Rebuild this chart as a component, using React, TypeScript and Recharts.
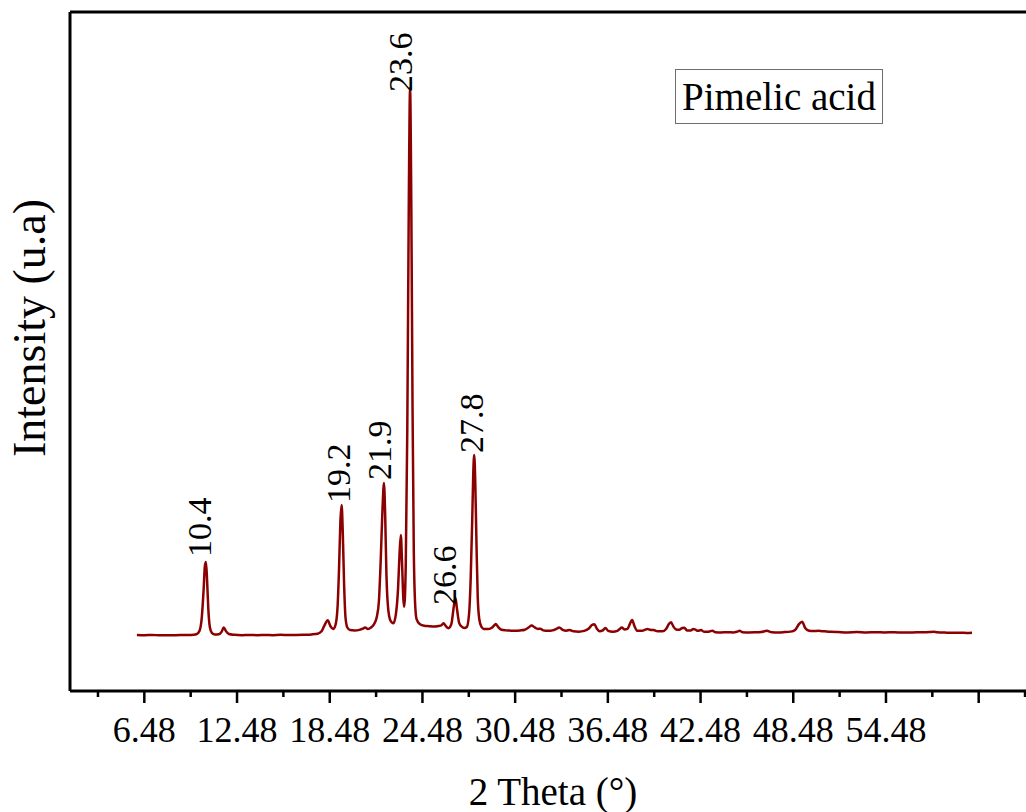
import React from 'react';
import { ComposedChart, Line, XAxis, YAxis, ReferenceDot, ReferenceLine } from 'recharts';

// XRD pattern (2 theta in degrees, intensity in arbitrary units)
const twoTheta = [
  6.0, 6.5, 7.0, 7.5, 8.0, 8.5, 9.0, 9.5, 9.85, 10.05, 10.2, 10.32, 10.4, 10.47, 10.54, 10.62, 10.72, 10.85,
  11.05, 11.3, 11.48, 11.62, 11.75, 11.95, 12.3, 12.8, 13.3, 13.8, 14.3, 14.8, 15.3, 15.8, 16.3, 16.8, 17.3,
  17.7, 17.95, 18.15, 18.35, 18.52, 18.7, 18.85, 18.98, 19.08, 19.17, 19.25, 19.33, 19.41, 19.5, 19.62, 19.8,
  20.1, 20.4, 20.62, 20.77, 20.95, 21.15, 21.35, 21.52, 21.66, 21.78, 21.9, 21.99, 22.07, 22.15, 22.25, 22.4,
  22.6, 22.76, 22.9, 23.0, 23.08, 23.16, 23.24, 23.3, 23.4, 23.5, 23.6, 23.68, 23.76, 23.84, 23.92, 24.0, 24.1,
  24.3, 24.6, 24.9, 25.2, 25.5, 25.7, 25.84, 26.0, 26.16, 26.35, 26.5, 26.62, 26.72, 26.86, 27.02, 27.2, 27.35,
  27.5, 27.6, 27.7, 27.77, 27.83, 27.9, 27.98, 28.06, 28.16, 28.3, 28.45, 28.7, 28.95, 29.1, 29.22, 29.38, 29.6,
  29.9, 30.2, 30.5, 30.8, 31.1, 31.35, 31.55, 31.75, 31.95, 32.1, 32.3, 32.6, 32.9, 33.15, 33.34, 33.55, 33.8,
  34.0, 34.25, 34.6, 34.95, 35.25, 35.45, 35.6, 35.78, 35.95, 36.15, 36.32, 36.5, 36.8, 37.1, 37.25, 37.38,
  37.55, 37.75, 37.9, 38.05, 38.2, 38.4, 38.7, 38.9, 39.04, 39.2, 39.45, 39.7, 40.0, 40.25, 40.45, 40.57, 40.72,
  40.9, 41.1, 41.3, 41.43, 41.6, 41.85, 42.0, 42.15, 42.3, 42.51, 42.7, 43.0, 43.24, 43.45, 43.8, 44.2, 44.6,
  44.85, 45.0, 45.2, 45.6, 46.0, 46.4, 46.77, 47.1, 47.5, 47.9, 48.3, 48.6, 48.85, 49.05, 49.25, 49.5, 49.8,
  50.1, 50.5, 50.9, 51.4, 52.0, 52.6, 53.2, 53.8, 54.4, 55.0, 55.6, 56.2, 56.8, 57.3, 57.55, 57.8, 58.3, 58.8,
  59.3, 59.7, 60.05,
];
const intensity = [
  577, 575, 578, 574, 576, 575, 577, 578, 585, 620, 760, 1050, 1290, 1330, 1150, 850, 660, 600,
  583, 585, 610, 655, 620, 588, 580, 576, 578, 575, 578, 576, 579, 577, 578, 580, 583,
  590, 615, 680, 730, 670, 640, 680, 850, 1250, 1750, 1918, 1600, 1100, 760, 655, 628,
  624, 630, 642, 655, 640, 655, 690, 760, 920, 1350, 1900, 2144, 1800, 1200, 870, 730,
  698, 790, 1050, 1420, 1608, 1320, 960, 869, 1300, 2700, 5100, 6217, 5000, 2900, 1450, 920, 740,
  690, 672, 668, 664, 670, 676, 698, 668, 648, 690, 860, 959, 840, 700, 664, 650, 660,
  800, 1150, 1750, 2250, 2433, 2150, 1500, 960, 740, 660, 640, 638, 650, 672, 690, 660, 632,
  625, 622, 620, 624, 632, 655, 675, 655, 640, 642, 625, 620, 625, 640, 655, 630, 622,
  630, 615, 612, 620, 645, 680, 688, 640, 615, 625, 650, 620, 612, 620, 640, 655,
  635, 640, 690, 732, 670, 620, 620, 632, 640, 632, 628, 615, 615, 640, 695, 708, 665,
  635, 632, 650, 653, 625, 625, 638, 632, 620, 628, 612, 612, 622, 606, 604, 606, 604,
  612, 620, 606, 604, 605, 608, 620, 606, 604, 607, 612, 630, 690, 714, 650, 622, 618,
  620, 615, 610, 607, 604, 607, 603, 606, 603, 606, 602, 604, 605, 608, 611, 605, 602, 600,
  601, 598, 600,
];

const majorTicks = [6.48, 12.48, 18.48, 24.48, 30.48, 36.48, 42.48, 48.48, 54.48, 60.48];
const tickLabels = ['6.48', '12.48', '18.48', '24.48', '30.48', '36.48', '42.48', '48.48', '54.48', ''];
const minorTicks = [3.48, 9.48, 15.48, 21.48, 27.48, 33.48, 39.48, 45.48, 51.48, 57.48, 63.48];

const peakLabels = ['10.4', '19.2', '21.9', '23.6', '26.6', '27.8'];
const peakLabelX = [10.8, 19.79, 22.45, 23.81, 26.66, 28.4];
const peakLabelY = [1382, 1938, 2175, 6176, 887, 2454];

const xrdData = twoTheta.map((x, i) => ({ x, y: intensity[i] }));
const allTicks = [...majorTicks, ...minorTicks].sort((a, b) => a - b);

const FONT = "'Liberation Serif', 'Times New Roman', serif";

const AxisTick = (props: any) => {
  const { x, y, payload } = props;
  const idx = majorTicks.indexOf(payload.value);
  const isMajor = idx >= 0;
  return (
    <g>
      <line x1={x} x2={x} y1={y} y2={y + (isMajor ? 12 : 6)} stroke="#000" strokeWidth={2.5} />
      {isMajor && tickLabels[idx] && (
        <text x={x} y={y + 51} textAnchor="middle" fontSize={36} fontFamily={FONT} fill="#000">
          {tickLabels[idx]}
        </text>
      )}
    </g>
  );
};

const PeakLabel = (text: string) => (p: any) => (
  <text
    x={p.cx}
    y={p.cy}
    transform={`rotate(-90 ${p.cx} ${p.cy})`}
    fontSize={34}
    fontFamily={FONT}
    fill="#000"
  >
    {text}
  </text>
);

export default function App() {
  return (
    <div
      style={{
        position: 'absolute',
        left: 0,
        top: 0,
        width: 1026,
        height: 812,
        overflow: 'hidden',
        background: '#fff',
      }}
    >
      <ComposedChart width={1100} height={812} data={xrdData} margin={{ top: 12, left: 69, right: 30, bottom: 120 }}>
        <XAxis
          type="number"
          dataKey="x"
          domain={[1.67, 66.39]}
          ticks={allTicks}
          interval={0}
          tick={<AxisTick />}
          tickLine={false}
          tickSize={0}
          tickMargin={0}
          height={1}
          allowDataOverflow
          axisLine={{ stroke: '#000', strokeWidth: 3 }}
        />
        <YAxis
          type="number"
          domain={[0, 7000]}
          width={1}
          tick={false}
          tickLine={false}
          allowDataOverflow
          axisLine={{ stroke: '#000', strokeWidth: 3 }}
        />
        <ReferenceLine y={7000} stroke="#000" strokeWidth={3} />
        <Line
          type="monotone"
          dataKey="y"
          stroke="#8b0000"
          strokeWidth={2.5}
          dot={false}
          activeDot={false}
          isAnimationActive={false}
        />
        {peakLabels.map((t, i) => (
          <ReferenceDot
            key={t}
            x={peakLabelX[i]}
            y={peakLabelY[i]}
            r={0}
            ifOverflow="visible"
            shape={PeakLabel(t)}
          />
        ))}
        <text x={553} y={805} textAnchor="middle" fontSize={39} fontFamily={FONT} fill="#000">
          2 Theta (°)
        </text>
        <text
          x={45}
          y={328}
          textAnchor="middle"
          transform="rotate(-90 45 328)"
          fontSize={46}
          fontFamily={FONT}
          fill="#000"
        >
          Intensity (u.a)
        </text>
      </ComposedChart>
      <div
        style={{
          position: 'absolute',
          left: 675,
          top: 69,
          width: 206,
          height: 53,
          border: '1px solid #6e6e6e',
          fontFamily: FONT,
          fontSize: 39,
          lineHeight: '53px',
          textAlign: 'center',
          color: '#000',
          whiteSpace: 'nowrap',
        }}
      >
        Pimelic acid
      </div>
    </div>
  );
}
